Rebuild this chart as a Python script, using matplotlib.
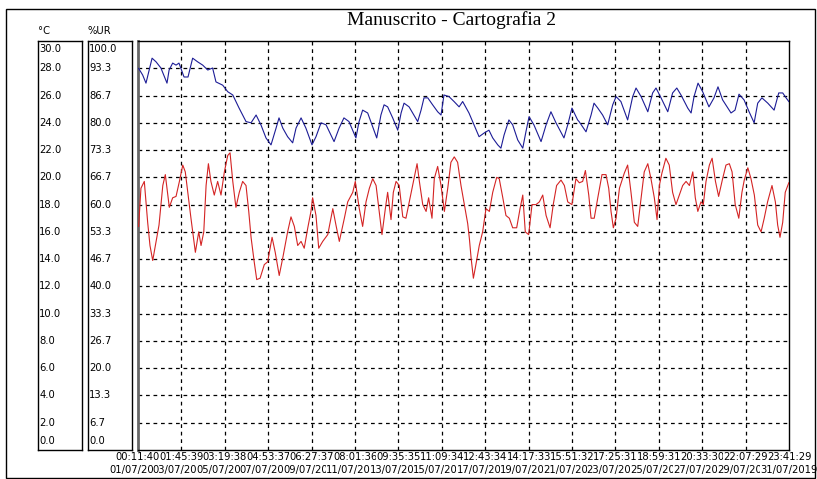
import matplotlib
matplotlib.use('Agg')
import matplotlib.pyplot as plt
from matplotlib.patches import Rectangle
from datetime import datetime, timedelta

# Manuscrito - Cartografia 2 : temperatura (°C) e humidade relativa (%UR)
start = datetime(2019, 7, 1, 0, 11, 40)
end = datetime(2019, 7, 31, 23, 41, 29)

# humidade relativa (%UR) - dias desde o início
hr_dias = [0.03, 0.22, 0.38, 0.67, 0.86, 1.09, 1.38, 1.48, 1.65, 1.81, 1.95, 2.19, 2.38, 2.60,
           2.84, 3.08, 3.32, 3.55, 3.71, 4.03, 4.27, 4.51, 4.81, 5.14, 5.38, 5.62, 5.85, 6.09,
           6.33, 6.57, 6.71, 6.89, 7.12, 7.36, 7.52, 7.76, 7.99, 8.28, 8.47, 8.71, 8.95, 9.18,
           9.33, 9.57, 9.80, 10.04, 10.37, 10.52, 10.69, 10.93, 11.17, 11.36, 11.56, 11.71, 11.88,
           12.12, 12.36, 12.52, 12.66, 12.90, 13.13, 13.31, 13.47, 13.61, 13.79, 14.02, 14.26,
           14.42, 14.56, 14.80, 15.04, 15.28, 15.45, 15.75, 15.99, 16.23, 16.47, 16.70, 16.88,
           17.12, 17.27, 17.42, 17.65, 17.83, 18.07, 18.31, 18.46, 18.61, 18.84, 19.18, 19.42,
           19.65, 19.89, 20.27, 20.45, 20.65, 20.92, 20.99, 21.32, 21.56, 21.70, 21.88, 22.11,
           22.35, 22.59, 22.75, 22.98, 23.30, 23.54, 23.70, 23.94, 24.26, 24.49, 24.65, 24.89,
           25.21, 25.44, 25.64, 25.84, 26.16, 26.32, 26.46, 26.65, 26.87, 27.17, 27.41, 27.60,
           27.82, 28.22, 28.41, 28.60, 28.84, 29.08, 29.32, 29.49, 29.69, 29.97, 30.27, 30.49,
           30.68, 30.84, 30.97]
hr = [93.3, 91.7, 89.7, 95.8, 94.9, 93.4, 89.7, 92.9, 94.6, 94.1, 94.6, 91.2, 91.2, 95.8,
      94.9, 94.1, 92.9, 93.4, 90.0, 89.2, 87.6, 86.8, 83.6, 80.3, 80.0, 81.9, 79.5, 76.3,
      74.6, 78.7, 81.2, 78.7, 76.6, 75.1, 78.7, 81.2, 78.7, 74.6, 76.6, 80.0, 79.5, 77.0,
      75.4, 78.7, 81.2, 80.3, 76.3, 80.3, 83.1, 82.4, 79.0, 76.3, 81.9, 84.4, 83.9,
      81.2, 78.2, 82.4, 84.8, 83.9, 81.9, 80.3, 83.1, 86.1, 86.1, 84.4, 82.7,
      81.9, 86.8, 86.4, 85.2, 83.9, 85.2, 82.4, 79.5, 76.6, 77.5, 78.2, 76.3,
      74.6, 73.8, 77.0, 80.7, 79.5, 75.8, 73.8, 77.8, 81.5, 79.5, 75.4, 79.5,
      82.7, 80.0, 76.3, 79.5, 83.6, 80.7, 80.3, 77.8, 81.9, 84.8, 83.6, 81.9,
      79.5, 84.4, 86.4, 85.2, 80.7, 86.4, 88.5, 86.4, 82.7, 87.3, 88.5, 86.1,
      82.7, 87.3, 88.5, 86.8, 83.6, 82.4, 86.4, 89.7, 87.6, 83.9, 86.1, 88.8,
      85.6, 82.4, 83.1, 87.0, 85.6, 82.7, 80.0, 84.8, 86.1, 84.8, 83.1, 87.3,
      87.3, 86.1, 85.2]

# temperatura (°C) - dias desde o início
t_dias = [0.03, 0.14, 0.30, 0.46, 0.57, 0.70, 0.86, 1.00, 1.18, 1.30, 1.49, 1.65, 1.81, 1.97,
          2.13, 2.25, 2.37, 2.52, 2.73, 2.89, 3.00, 3.13, 3.24, 3.35, 3.47, 3.63, 3.79, 3.95,
          4.11, 4.27, 4.38, 4.51, 4.66, 4.82, 4.98, 5.14, 5.27, 5.38, 5.53, 5.65, 5.81, 6.01,
          6.17, 6.38, 6.53, 6.72, 6.89, 7.12, 7.28, 7.44, 7.60, 7.76, 7.91, 8.08, 8.23, 8.31,
          8.47, 8.60, 8.79, 9.03, 9.27, 9.42, 9.58, 9.82, 9.98, 10.22, 10.34, 10.53, 10.69,
          10.85, 11.01, 11.17, 11.33, 11.48, 11.61, 11.77, 11.88, 12.04, 12.15, 12.28, 12.43,
          12.60, 12.75, 12.91, 13.07, 13.28, 13.39, 13.55, 13.71, 13.83, 13.99, 14.10, 14.26,
          14.42, 14.58, 14.74, 14.89, 15.05, 15.21, 15.37, 15.53, 15.69, 15.77, 15.85, 15.96,
          16.08, 16.24, 16.40, 16.56, 16.72, 16.88, 17.07, 17.19, 17.36, 17.51, 17.67, 17.83,
          18.02, 18.18, 18.31, 18.43, 18.59, 18.75, 18.94, 19.10, 19.26, 19.42, 19.61, 19.76,
          19.92, 20.13, 20.29, 20.45, 20.65, 20.84, 21.00, 21.16, 21.29, 21.45, 21.56, 21.71,
          21.88, 22.08, 22.27, 22.40, 22.51, 22.62, 22.75, 22.91, 23.14, 23.30, 23.46, 23.62,
          23.78, 23.94, 24.09, 24.26, 24.41, 24.57, 24.70, 24.81, 24.93, 25.12, 25.28, 25.44,
          25.60, 25.76, 25.92, 26.08, 26.24, 26.40, 26.52, 26.64, 26.79, 26.90, 27.03, 27.19,
          27.32, 27.48, 27.63, 27.82, 27.98, 28.14, 28.27, 28.42, 28.59, 28.74, 28.85, 29.02,
          29.17, 29.33, 29.49, 29.65, 29.80, 29.96, 30.17, 30.33, 30.44, 30.55, 30.68, 30.80,
          30.97]
temp = [16.4, 19.2, 19.7, 16.7, 15.0, 13.9, 15.3, 16.5, 19.4, 20.2, 17.8, 18.5, 18.6, 19.7,
        20.9, 20.4, 18.9, 17.0, 14.5, 16.0, 15.0, 16.0, 19.4, 21.0, 19.7, 18.7, 19.7, 18.7,
        20.4, 21.6, 21.8, 19.7, 17.8, 18.9, 19.7, 19.4, 17.5, 15.6, 13.8, 12.5, 12.6, 13.6,
        13.8, 15.6, 14.5, 12.8, 14.1, 16.0, 17.1, 16.4, 15.0, 15.3, 14.8, 16.3, 17.5, 18.5,
        17.2, 14.8, 15.3, 15.8, 17.7, 16.5, 15.3, 17.0, 18.2, 18.9, 19.7, 17.7, 16.4,
        18.2, 19.2, 19.9, 19.4, 17.5, 15.8, 17.7, 18.9, 16.9, 18.9, 19.7, 19.4,
        17.1, 17.0, 18.2, 19.4, 21.0, 19.7, 18.0, 17.5, 18.5, 17.0, 19.9, 20.8,
        19.4, 17.5, 19.2, 21.1, 21.5, 21.1, 19.4, 18.0, 16.6, 15.5, 14.1, 12.6,
        13.6, 15.0, 16.0, 17.7, 17.5, 18.9, 20.0, 19.9, 18.5, 17.2, 17.0, 16.3,
        16.3, 17.7, 18.7, 16.0, 15.8, 18.0, 18.0, 18.2, 18.7, 17.2, 16.3, 18.0,
        19.4, 19.8, 19.4, 18.2, 18.0, 19.9, 19.6, 19.7, 20.5, 18.7, 17.0, 17.0,
        18.5, 20.2, 20.2, 19.2, 17.5, 16.3, 17.0, 19.2, 20.3, 20.9, 18.9, 16.7,
        16.4, 18.5, 20.4, 21.0, 19.9, 18.5, 16.9, 19.4, 20.3, 21.4, 20.9, 18.9,
        18.0, 18.7, 19.4, 19.7, 19.4, 20.4, 18.5, 17.5, 18.2, 18.0, 19.7, 20.9,
        21.4, 19.7, 18.6, 19.9, 20.9, 21.0, 20.4, 18.0, 17.0, 18.9, 19.8, 20.7,
        19.9, 18.7, 16.5, 16.0, 17.0, 18.2, 19.4, 18.2, 16.5, 15.6, 16.7, 18.9,
        19.6]

t_ticks = [0, 2, 4, 6, 8, 10, 12, 14, 16, 18, 20, 22, 24, 26, 28, 30]
n_div = 15

W, H = 817, 479
fig = plt.figure(figsize=(W / 100, H / 100), dpi=100)

# moldura exterior
fig.patches.append(Rectangle((6 / W, 1 - 478 / H), 809 / W, 469 / H, transform=fig.transFigure,
                             fill=False, edgecolor='black', linewidth=1))

L, R, T, B = 138, 789, 41, 450
ax = fig.add_axes([L / W, 1 - B / H, (R - L) / W, (B - T) / H])
total = (end - start).total_seconds() / 86400
ax.set_xlim(0, total)
ax.set_ylim(0, 30)

# grelha tracejada
xt = [total * i / n_div for i in range(n_div + 1)]
for v in xt[1:-1]:
    ax.axvline(v, color='black', lw=0.9, ls=(0, (3, 3)), zorder=1)
for v in t_ticks[1:-1]:
    ax.axhline(v, color='black', lw=0.9, ls=(0, (3, 3)), zorder=1)

ax.plot(t_dias, temp, color='#d42424', lw=0.8, zorder=3)
ax2 = ax.twinx()
ax2.set_ylim(0, 100)
ax2.plot(hr_dias, hr, color='#1c1c96', lw=0.8, zorder=3)
ax2.axis('off')

ax.set_xticks([])
ax.set_yticks([])
for s in ['top', 'right', 'bottom']:
    ax.spines[s].set_linewidth(1)
ax.spines['left'].set_linewidth(2)
ax.spines['left'].set_color('#666666')

# rótulos do eixo x (hora e data), sobrepostos como no original
for i, v in enumerate(xt):
    d = start + timedelta(days=v)
    ax.text(v, -0.006, d.strftime('%H:%M:%S'), transform=ax.get_xaxis_transform(),
            ha='center', va='top', fontsize=7.2, zorder=10 + i, clip_on=False,
            bbox=dict(facecolor='white', edgecolor='none', pad=0))
    ax.text(v, -0.037, d.strftime('%d/%m/%Y'), transform=ax.get_xaxis_transform(),
            ha='center', va='top', fontsize=7.2, zorder=10 + i, clip_on=False,
            bbox=dict(facecolor='white', edgecolor='none', pad=0))

# caixas das escalas °C e %UR
def escala(x0, x1, nome, labels):
    a = fig.add_axes([x0 / W, 1 - B / H, (x1 - x0) / W, (B - T) / H])
    a.set_xlim(0, 1)
    a.set_ylim(0, 30)
    a.set_xticks([])
    a.set_yticks([])
    for s in a.spines.values():
        s.set_linewidth(1)
    for v, lab in zip(t_ticks, labels):
        y, va = v, 'center'
        if v == 30:
            y, va = 29.8, 'top'
        elif v == 0:
            y, va = 0.3, 'bottom'
        a.text(0.03, y, lab, ha='left', va=va, fontsize=7.2)
    fig.text(x0 / W, 1 - 31 / H, nome, ha='left', va='center', fontsize=7.2)

escala(38, 82, '°C', ['%.1f' % v for v in t_ticks])
escala(88, 132, '%UR', ['%.1f' % (v * 100 / 30) for v in t_ticks])

fig.text(452 / W, 1 - 20 / H, 'Manuscrito - Cartografia 2', ha='center', va='center',
         fontsize=14, family='Liberation Serif')

fig.savefig('out.png', dpi=100)
